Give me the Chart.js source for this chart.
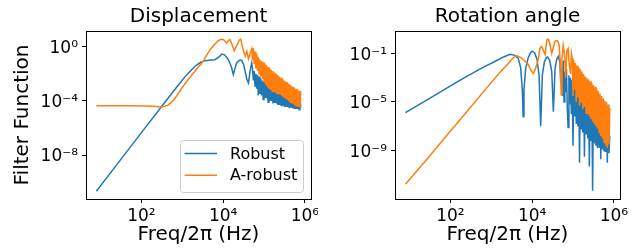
<!DOCTYPE html>
<html>
<head>
<meta charset="utf-8">
<script src="https://cdn.jsdelivr.net/npm/chart.js@4.4.1/dist/chart.umd.min.js"></script>
<style>
  html, body { margin: 0; padding: 0; background: #fff; }
  .panel { position: absolute; top: 0; }
  canvas { display: block; }
</style>
</head>
<body>
<div class="panel" style="left:0"><canvas id="disp" width="318" height="249"></canvas></div>
<div class="panel" style="left:318px"><canvas id="rot" width="320" height="249"></canvas></div>
<script>
// Values. Both axes are logarithmic, so every array holds
// log10 values: *F = log10(frequency / Hz), *V = log10(filter function).

// Displacement, Robust
const dispRobustF = [0.9, 1.3, 1.7, 2.1, 2.5, 2.9, 3.1, 3.3, 3.45, 3.56,
  3.7, 3.8, 3.9, 3.97, 4.03, 4.09, 4.15, 4.21, 4.25, 4.29,
  4.33, 4.4, 4.45, 4.5, 4.54, 4.58, 4.62, 4.66, 4.7,
  4.72, 4.74, 4.76, 4.78, 4.8, 4.82, 4.84, 4.86, 4.88, 4.9,
  4.92, 4.94, 4.96, 4.98, 5.0, 5.02, 5.04, 5.06, 5.08, 5.1,
  5.12, 5.14, 5.16, 5.18, 5.2, 5.22, 5.24, 5.26, 5.28, 5.3,
  5.32, 5.34, 5.36, 5.38, 5.4, 5.42, 5.44, 5.46, 5.48, 5.5,
  5.52, 5.54, 5.56, 5.58, 5.6, 5.62, 5.64, 5.66, 5.68, 5.7,
  5.72, 5.74, 5.76, 5.78, 5.8, 5.82, 5.84, 5.86, 5.88, 5.9];
const dispRobustV = [-10.68, -9.1, -7.53, -5.96, -4.4, -2.85, -2.1, -1.48, -1.15, -1.03,
  -0.98, -0.96, -0.75, -0.54, -0.6, -0.78, -1.1, -1.57, -2.07, -1.6,
  -1.2, -1.0, -1.0, -1.3, -1.82, -2.4, -2.68, -1.8, -1.2,
  -1.6, -2.5, -1.8, -2.9, -2.0, -3.1, -2.1, -3.6, -2.2, -3.5,
  -2.35, -3.6, -2.5, -3.9, -2.6, -3.8, -2.7, -3.8, -2.8, -4.1,
  -2.95, -4.0, -3.05, -4.0, -3.15, -4.2, -3.25, -4.15, -3.35, -4.2,
  -3.45, -4.3, -3.5, -4.3, -3.5, -4.35, -3.55, -4.35, -3.6, -4.45,
  -3.6, -4.4, -3.65, -4.45, -3.65, -4.55, -3.7, -4.5, -3.7, -4.55,
  -3.75, -4.6, -3.75, -4.6, -3.8, -4.6, -3.8, -4.65, -3.8, -4.5];

// Displacement, A-robust
const dispArobustF = [0.9, 1.3, 1.7, 2.1, 2.3, 2.45, 2.55, 2.65, 2.74, 2.85,
  2.99, 3.15, 3.31, 3.51, 3.68, 3.8, 3.88, 3.95, 4.0, 4.05,
  4.09, 4.13, 4.17, 4.22, 4.27, 4.31, 4.35, 4.4, 4.43, 4.48,
  4.54, 4.58, 4.62, 4.66, 4.7,
  4.72, 4.74, 4.76, 4.78, 4.8, 4.82, 4.84, 4.86, 4.88, 4.9,
  4.92, 4.94, 4.96, 4.98, 5.0, 5.02, 5.04, 5.06, 5.08, 5.1,
  5.12, 5.14, 5.16, 5.18, 5.2, 5.22, 5.24, 5.26, 5.28, 5.3,
  5.32, 5.34, 5.36, 5.38, 5.4, 5.42, 5.44, 5.46, 5.48, 5.5,
  5.52, 5.54, 5.56, 5.58, 5.6, 5.62, 5.64, 5.66, 5.68, 5.7,
  5.72, 5.74, 5.76, 5.78, 5.8, 5.82, 5.84, 5.86, 5.88, 5.9];
const dispArobustV = [-4.36, -4.36, -4.37, -4.38, -4.4, -4.45, -4.42, -4.32, -4.1, -3.7,
  -3.05, -2.4, -1.82, -1.08, -0.22, 0.2, 0.45, 0.55, 0.53, 0.4,
  0.27, 0.45, 0.53, 0.15, -0.3, -0.05, 0.2, 0.5, 0.56, -0.1,
  -0.71, -0.34, -0.9, -0.5, -0.15,
  -1.0, -0.1, -1.3, -0.35, -1.6, -0.55, -1.8, -0.75, -2.0, -0.95,
  -2.2, -1.05, -2.4, -1.15, -2.6, -1.25, -2.8, -1.35, -3.0, -1.5,
  -3.1, -1.6, -3.2, -1.7, -3.3, -1.8, -3.35, -1.9, -3.4, -2.0,
  -3.45, -2.1, -3.5, -2.2, -3.55, -2.3, -3.65, -2.4, -3.75, -2.5,
  -3.85, -2.6, -3.9, -2.65, -4.0, -2.75, -4.1, -2.85, -4.2, -2.95,
  -4.25, -3.0, -4.3, -3.1, -4.4, -3.15, -4.45, -3.25, -4.5, -3.3];

// Rotation angle, Robust
const rotRobustF = [0.9, 1.4, 1.9, 2.4, 2.8, 3.1, 3.3, 3.46, 3.56, 3.66,
  3.72, 3.76, 3.78, 3.8, 3.84, 3.9, 3.96, 4.0, 4.06, 4.12,
  4.17, 4.21, 4.25, 4.3, 4.35, 4.38, 4.43, 4.48, 4.52, 4.56,
  4.6, 4.64, 4.66,
  4.68, 4.7, 4.72, 4.74, 4.76, 4.78, 4.8, 4.82, 4.84, 4.86,
  4.88, 4.9, 4.92, 4.94, 4.96, 4.98, 5.0, 5.02, 5.04, 5.06,
  5.08, 5.1, 5.12, 5.14, 5.16, 5.18, 5.2, 5.22, 5.24, 5.26,
  5.28, 5.3, 5.32, 5.34, 5.36, 5.38, 5.4, 5.42, 5.44, 5.46,
  5.48, 5.5, 5.52, 5.54, 5.56, 5.58, 5.6, 5.62, 5.64, 5.66,
  5.68, 5.7, 5.72, 5.74, 5.76, 5.78, 5.8, 5.82, 5.84, 5.86,
  5.88, 5.9];
const rotRobustV = [-5.88, -4.88, -3.88, -2.9, -2.15, -1.65, -1.3, -1.08, -1.15, -1.4,
  -2.2, -4.0, -6.2, -4.0, -2.3, -1.4, -0.95, -0.82, -0.95, -1.5,
  -2.8, -7.0, -2.8, -1.7, -1.35, -1.3, -1.6, -2.5, -5.8, -2.3,
  -1.5, -1.25, -1.5,
  -1.8, -3.5, -2.1, -4.5, -1.6, -5.0, -2.5, -4.2, -2.3, -5.5,
  -7.1, -2.8, -5.2, -3.0, -6.0, -3.2, -8.6, -3.3, -6.2, -3.5,
  -6.8, -3.6, -7.0, -3.7, -10.0, -3.8, -7.2, -3.9, -7.5, -4.0,
  -9.5, -4.1, -7.6, -4.3, -8.0, -4.4, -10.3, -4.5, -8.2, -4.6,
  -12.3, -4.7, -8.4, -4.8, -8.6, -4.9, -8.8, -5.0, -8.7, -5.1,
  -9.7, -5.2, -8.9, -5.3, -9.0, -5.35, -9.1, -5.4, -10.0, -5.5,
  -9.2, -7.8];

// Rotation angle, A-robust
const rotArobustF = [0.9, 1.4, 1.9, 2.4, 2.9, 3.2, 3.4, 3.54, 3.62, 3.7,
  3.8, 3.9, 3.97, 4.03, 4.09, 4.15, 4.19, 4.23, 4.28, 4.32,
  4.36, 4.4, 4.44, 4.48, 4.52, 4.56, 4.62, 4.66, 4.69, 4.71,
  4.73, 4.76, 4.79, 4.82, 4.85, 4.88, 4.91, 4.94, 4.96, 4.98,
  5.0, 5.02, 5.04, 5.06, 5.08, 5.1, 5.12, 5.14, 5.16, 5.18,
  5.2, 5.22, 5.24, 5.26, 5.28, 5.3, 5.32, 5.34, 5.36, 5.38,
  5.4, 5.42, 5.44, 5.46, 5.48, 5.5, 5.52, 5.54, 5.56, 5.58,
  5.6, 5.62, 5.64, 5.66, 5.68, 5.7, 5.72, 5.74, 5.76, 5.78,
  5.8, 5.82, 5.84, 5.86, 5.88, 5.9];
const rotArobustV = [-11.76, -9.8, -7.8, -5.8, -3.8, -2.62, -1.9, -1.35, -1.2, -1.3,
  -1.55, -1.9, -2.4, -2.64, -2.2, -1.5, -0.6, -0.43, -0.8, -1.11,
  0.1, 0.15, -0.3, -1.0, -0.5, 0.0, 0.05, -0.3, -1.8, -4.4,
  -1.5, -0.35, -1.0, -3.0, -0.8, -0.6, -2.0, -2.7, -1.0, -1.4,
  -4.5, -1.6, -4.0, -1.8, -5.0, -2.0, -4.6, -2.15, -5.3, -2.3,
  -5.0, -2.5, -5.6, -2.7, -5.4, -2.9, -5.9, -3.0, -6.0, -3.15,
  -6.2, -3.3, -6.4, -3.4, -6.6, -3.6, -6.8, -3.75, -7.0, -3.9,
  -7.2, -4.1, -7.5, -4.3, -7.8, -4.5, -8.0, -4.7, -8.3, -4.9,
  -8.6, -5.0, -8.8, -5.2, -8.5, -5.5];

// axis limits (log10) and tick positions
const freqLimits = [0.645, 6.15];
const dispLimits = [-11.25, 1.16];
const rotLimits = [-12.97, 0.832];
const freqTicks = [1e2, 1e4, 1e6];
const dispTicks = [1e0, 1e-4, 1e-8];
const rotTicks = [1e-1, 1e-5, 1e-9];

const BLUE = '#1f77b4';
const ORANGE = '#ff7f0e';

Chart.defaults.font.family = "'DejaVu Sans', sans-serif";
Chart.defaults.color = '#000';
Chart.defaults.animation = false;

const SUP = { '0': '⁰', '1': '¹', '2': '²', '3': '³', '4': '⁴', '5': '⁵',
  '6': '⁶', '7': '⁷', '8': '⁸', '9': '⁹', '-': '⁻' };

// 10^n with unicode superscripts
function powLabel(v) {
  const e = Math.round(Math.log10(v));
  return '10' + String(e).split('').map((c) => SUP[c]).join('');
}

function toPoints(f, v) {
  return f.map((lf, i) => ({ x: Math.pow(10, lf), y: Math.pow(10, v[i]) }));
}

// black box around the plot area, like matplotlib spines
const frame = {
  id: 'frame',
  afterDatasetsDraw(chart) {
    const { ctx, chartArea: a } = chart;
    ctx.save();
    ctx.strokeStyle = '#000';
    ctx.lineWidth = 1;
    ctx.strokeRect(a.left + 0.5, a.top + 0.5, a.right - a.left, a.bottom - a.top);
    ctx.restore();
  },
};

// legend box in the lower right corner of the plot area
const legendBox = {
  id: 'legendBox',
  afterDraw(chart, args, opts) {
    if (!opts.display) return;
    const { ctx, chartArea: a } = chart;
    const w = 123;
    const h = 52;
    const x0 = a.right - 8 - w;
    const y0 = a.bottom - 7 - h;
    ctx.save();
    ctx.beginPath();
    ctx.roundRect(x0 + 0.5, y0 + 0.5, w, h, 3);
    ctx.fillStyle = 'rgba(255,255,255,0.8)';
    ctx.fill();
    ctx.strokeStyle = '#cccccc';
    ctx.lineWidth = 1;
    ctx.stroke();
    ctx.font = "16px 'DejaVu Sans'";
    ctx.textBaseline = 'middle';
    chart.data.datasets.forEach((ds, i) => {
      const y = y0 + 13.5 + i * 21.7;
      ctx.strokeStyle = ds.borderColor;
      ctx.lineWidth = 1.5;
      ctx.beginPath();
      ctx.moveTo(x0 + 4.5, y);
      ctx.lineTo(x0 + 37, y);
      ctx.stroke();
      ctx.fillStyle = '#000';
      ctx.fillText(ds.label, x0 + 50, y + 1);
    });
    ctx.restore();
  },
};

function makeChart(canvasId, cfg) {
  const tickGrid = {
    drawOnChartArea: false,
    drawTicks: true,
    tickLength: 4,
    tickColor: '#000',
    tickWidth: 1,
  };
  return new Chart(document.getElementById(canvasId), {
    type: 'line',
    data: {
      datasets: [
        {
          label: 'Robust',
          data: toPoints(cfg.robustF, cfg.robustV),
          borderColor: BLUE,
          borderWidth: 1.5,
          pointRadius: 0,
          order: 2,
        },
        {
          label: 'A-robust',
          data: toPoints(cfg.arobustF, cfg.arobustV),
          borderColor: ORANGE,
          borderWidth: 1.5,
          pointRadius: 0,
          order: 1,
        },
      ],
    },
    options: {
      responsive: false,
      layout: { padding: { left: 0, right: cfg.padRight, top: 0, bottom: 0 } },
      plugins: {
        legend: { display: false },
        tooltip: { enabled: false },
        title: {
          display: true,
          text: cfg.title,
          fullSize: false,
          color: '#000',
          font: { size: 20, weight: 'normal' },
          padding: { top: 5, bottom: 2 },
        },
        legendBox: { display: cfg.showLegend },
      },
      scales: {
        x: {
          type: 'logarithmic',
          bounds: 'data',
          min: Math.pow(10, freqLimits[0]),
          max: Math.pow(10, freqLimits[1]),
          afterBuildTicks: (s) => { s.ticks = freqTicks.map((v) => ({ value: v })); },
          afterFit: (s) => { s.height = 50; s.paddingLeft = 0; s.paddingRight = 0; },
          grid: tickGrid,
          border: { display: false },
          ticks: {
            callback: (v) => powLabel(v),
            autoSkip: false,
            maxRotation: 0,
            padding: 3,
            color: '#000',
            font: { size: 17 },
          },
          title: {
            display: true,
            text: 'Freq/2π (Hz)',
            color: '#000',
            font: { size: 20 },
            padding: { top: 0, bottom: 2 },
          },
        },
        y: {
          type: 'logarithmic',
          bounds: 'data',
          min: Math.pow(10, cfg.yLimits[0]),
          max: Math.pow(10, cfg.yLimits[1]),
          afterBuildTicks: (s) => { s.ticks = cfg.yTicks.map((v) => ({ value: v })); },
          afterFit: (s) => { s.width = cfg.yWidth; s.paddingTop = 0; s.paddingBottom = 0; },
          grid: tickGrid,
          border: { display: false },
          ticks: {
            callback: (v) => powLabel(v),
            autoSkip: false,
            padding: 4,
            labelOffset: 2,
            color: '#000',
            font: { size: 17 },
          },
          title: {
            display: !!cfg.yTitle,
            text: cfg.yTitle || '',
            color: '#000',
            font: { size: 20 },
            padding: { top: 11, bottom: 0 },
          },
        },
      },
    },
    plugins: [frame, legendBox],
  });
}

makeChart('disp', {
  title: 'Displacement',
  robustF: dispRobustF,
  robustV: dispRobustV,
  arobustF: dispArobustF,
  arobustV: dispArobustV,
  yLimits: dispLimits,
  yTicks: dispTicks,
  yWidth: 86,
  yTitle: 'Filter Function',
  padRight: 7,
  showLegend: true,
});

makeChart('rot', {
  title: 'Rotation angle',
  robustF: rotRobustF,
  robustV: rotRobustV,
  arobustF: rotArobustF,
  arobustV: rotArobustV,
  yLimits: rotLimits,
  yTicks: rotTicks,
  yWidth: 77,
  padRight: 18,
  showLegend: false,
});
</script>
</body>
</html>
